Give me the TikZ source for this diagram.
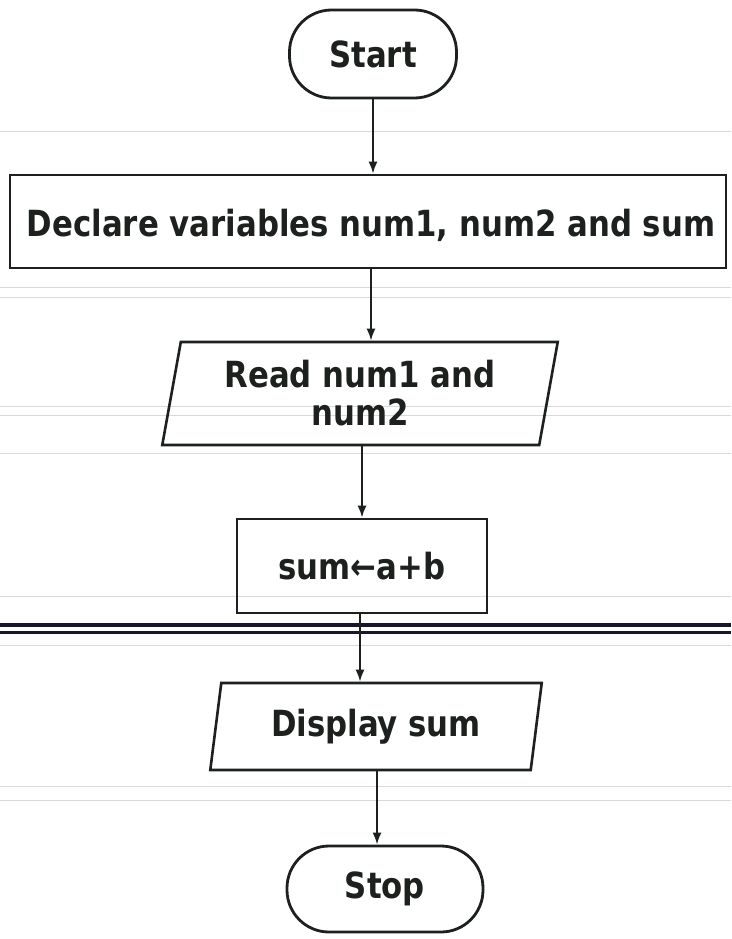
\documentclass[tikz,border=0pt]{standalone}
\usepackage{fontspec}
\newfontfamily\flowfont[FakeStretch=0.855]{DejaVu Sans Bold}
\usetikzlibrary{shapes.geometric,arrows.meta}
\definecolor{ink}{HTML}{1C211E}
\definecolor{rule}{HTML}{15172A}
\tikzset{
  x=1pt, y=-1pt,
  every node/.style={font=\flowfont\fontsize{36}{40}\selectfont, text=ink, align=center},
  terminal/.style={draw=ink, line width=2.8pt, rectangle, rounded corners=42pt, inner sep=0pt},
  process/.style={draw=ink, line width=2.6pt, rectangle, inner sep=0pt},
  io/.style={draw=ink, line width=2.6pt, trapezium, trapezium left angle=78, trapezium right angle=102,
             trapezium stretches=true, inner sep=0pt},
  flow/.style={draw=ink, line width=2pt, -{Latex[length=12pt,width=9pt]}},
  faint/.style={draw=gray!30, line width=0.8pt},
}
\begin{document}
\begin{tikzpicture}
\useasboundingbox (0,0) rectangle (731,939);
\fill[white] (0,0) rectangle (731,939);

% light ruling of the paper
\foreach \yy in {131,287,297,406,415,453,596,645,786,800}
  \draw[faint] (0,\yy) -- (731,\yy);

% heavy double rule across the page
\draw[rule, line width=3.5pt] (0,625) -- (731,625);
\draw[rule, line width=3.5pt] (0,632.5) -- (731,632.5);

% flowchart blocks
\node[terminal, minimum width=167pt, minimum height=88pt] (start) at (373,54) {Start};
\node[process, minimum width=716pt, minimum height=93pt] (decl) at (368,221.5)
  {\hspace*{6pt}\raisebox{-4pt}[27pt][6pt]{Declare variables num1, num2 and sum}};
\node[io, minimum width=396pt, minimum height=103pt] (read) at (360,393.5)
  {\raisebox{2pt}{Read num1 and}\\[-4pt]num2};
\node[process, minimum width=250pt, minimum height=94pt] (sum) at (362,566) {sum←a+b};
\node[io, minimum width=332pt, minimum height=87pt] (disp) at (376,726.5) {Display sum};
\node[terminal, minimum width=196pt, minimum height=86pt] (stop) at (385,889) {Stop};

% connectors
\draw[flow] (start.south) -- (start.south |- decl.north);
\draw[flow] ([xshift=3pt]decl.south) -- ([xshift=3pt]decl.south |- read.north);
\draw[flow] (sum.north |- read.south) -- (sum.north);
\draw[flow] ([xshift=-2pt]sum.south) -- ([xshift=-2pt]sum.south |- disp.north);
\draw[flow] ([xshift=1pt]disp.south) -- ([xshift=1pt]disp.south |- stop.north);
\end{tikzpicture}
\end{document}
